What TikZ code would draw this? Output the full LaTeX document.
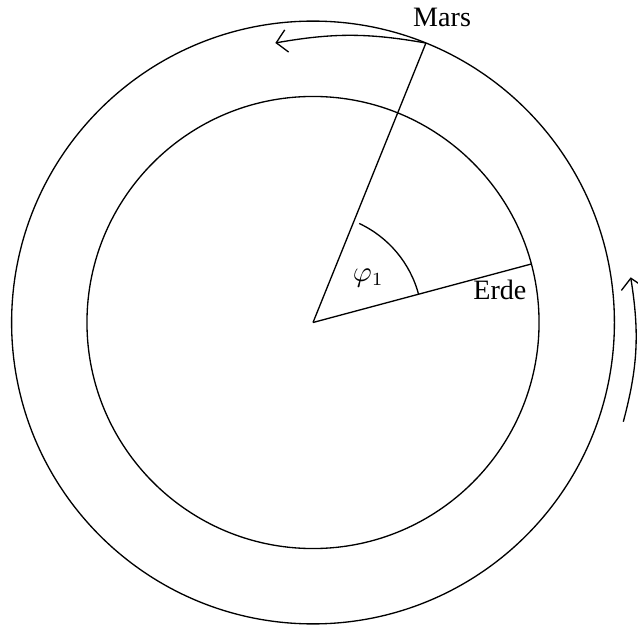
\documentclass[tikz,border=0pt]{standalone}
\usepackage{fontspec}
\setmainfont{Liberation Serif}
\usetikzlibrary{arrows.meta, positioning, calc}

\begin{document}
\begin{tikzpicture}[
    x=1cm, y=1cm,
    orbit/.style={line width=0.5pt, draw=black},
    ray/.style={line width=0.5pt, draw=black},
    motion/.style={-{Straight Barb[length=4pt, width=8.5pt]}, line width=0.5pt, draw=black},
    lbl/.style={font=\fontsize{10.6}{12.7}\selectfont, inner sep=0pt, anchor=base},
  ]
  \useasboundingbox (-4.154,-4.041) rectangle (4.313,4.28);

  \coordinate (sun) at (0,0);
  \coordinate (mars) at (68:4);
  \coordinate (erde) at (15:3);
  \coordinate (marsdir) at (-0.5,3.71);
  \coordinate (erdefrom) at (4.118,-1.317);
  \coordinate (erdedir) at (4.216,0.6);

  % orbits
  \draw[orbit] (sun) circle (4);
  \draw[orbit] (sun) circle (3);

  % planets and angle between them
  \draw[ray] (sun) -- (mars);
  \draw[ray] (sun) -- (erde);
  \draw[ray] ([shift={(15:1.45)}]sun) arc (15:65:1.45);

  \node[lbl] (marslbl) at (1.713,3.926) {Mars};
  \node[lbl] (erdelbl) at (2.48,0.308)  {Erde};
  \node[lbl] (philbl)  at (0.734,0.55)  {$\varphi_1$};

  % direction of motion
  \draw[motion] (mars) to[bend right=10] (marsdir);
  \draw[motion] (erdefrom) to[bend right=12] (erdedir);
\end{tikzpicture}
\end{document}
